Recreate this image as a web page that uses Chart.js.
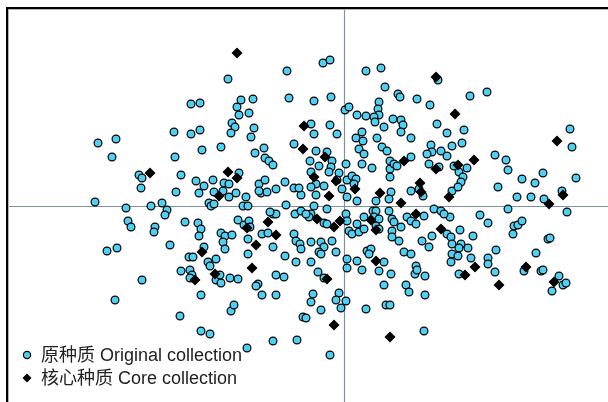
<!DOCTYPE html>
<html>
<head>
<meta charset="utf-8">
<script src="https://cdn.jsdelivr.net/npm/chart.js@4.4.1/dist/chart.umd.min.js"></script>
<style>
	body { margin: 0; background: #fff; }
	canvas { display: block; }
</style>
</head>
<body>
<canvas id="scatter_canvas" width="608" height="402"></canvas>
<script>
// PCA scores (x = PC1, y = PC2)
const originalCollection = [
	[-116,127],[-57,135],[-55,108],[-153,102],[-144,103],[-103,106],[-91,107],[-107,99],[-95,93],[-105,91],
	[-112,83],[-109,79],[-90,78],[-170,74],[-144,76],[-153,72],[-113,73],
	[-21,143],[-14,146],[22,135],[37,138],[94,126],[41,119],[54,112],[56,109],[73,107],[86,101],[-30,105],
	[-13,109],[35,104],[34,97],[35,91],[1,96],[5,99],[13,91],[22,90],[30,89],[31,84],[40,79],[49,87],[57,86],
	[59,81],[93,82],[-33,82],[-14,81],[-30,72],[-7,72],[18,74],[57,74],[103,73],
	[126,110],[143,114],[120,76],[226,77],
	[-246,63],[-228,67],[-232,49],[-205,31],[-202,28],[-203,18],[-249,4],[-218,-2],[-216,-15],[-213,-21],
	[-237,-45],[-227,-42],[-193,0],[-182,3],[-177,-4],[-179,-9],[-189,-21],[-190,-26],
	[-93,69],[-142,56],[-123,59],[-169,49],[-50,62],[-80,58],[-79,48],[-89,53],[-75,45],[-71,41],[-163,31],
	[-105,33],[-148,25],[-140,20],[-131,26],[-120,23],[-115,22],[-145,13],[-168,14],[-130,14],[-121,15],
	[-115,9],[-108,13],[-135,3],[-133,0],[-130,2],[-98,9],[-101,0],[-96,0],[-85,22],[-79,26],[-83,13],
	[-77,14],[-85,15],[-68,17],[-59,24],[-50,18],[-43,11],[-45,18],[-58,1],[-49,-8],[-43,-5],[-159,-16],
	[-146,-17],[-143,-23],[-145,-30],[-174,-39],[-123,-27],[-119,-30],[-112,-29],[-121,-36],[-119,-43],
	[-106,-14],[-100,-19],[-95,-15],[-94,-21],[-96,-33],[-71,-8],[-68,-8],[-74,-6],[-82,-28],[-76,-27],
	[-71,-41],[-50,-28],[-48,-35],[-44,-38],[-43,-43],[-96,-48],[-59,-50],[-48,-56],[-140,-41],[-155,-51],
	[-151,-51],[-128,-53],[-136,-56],[-134,-60],
	[12,68],[19,65],[33,68],[67,68],[15,57],[20,52],[38,59],[43,55],[-28,55],[-17,54],[-34,45],[-25,40],
	[-12,45],[-13,39],[-15,34],[2,42],[18,42],[28,38],[46,45],[46,37],[50,42],[53,40],[67,49],[87,61],
	[88,54],[97,55],[103,50],[83,52],[108,60],[85,42],[95,39],[110,40],[-5,33],[-7,26],[3,26],[8,30],
	[12,27],[10,22],[-33,34],[-28,22],[-20,20],[-33,19],[-2,17],[3,9],[13,5],[46,29],[47,14],[45,7],[32,5],
	[67,15],[75,17],[79,10],[108,15],[-28,11],[-17,-3],[-30,0],[-33,-8],[-35,-11],[-38,-8],[-20,-17],
	[-17,-18],[2,-8],[3,-15],[5,-25],[8,-28],[13,-18],[15,-26],[20,-11],[20,-23],[29,-5],[32,-5],[30,-11],
	[35,-13],[32,-20],[35,-23],[45,-5],[48,-13],[50,-16],[48,-25],[57,-21],[48,-31],[55,-35],[63,-11],
	[67,-15],[72,-18],[80,-10],[90,-3],[97,-5],[106,-11],[100,-8],[103,-28],[107,-31],[108,-38],[88,-30],
	[85,-41],[78,-35],[108,-48],[107,-56],[-33,-36],[-23,-36],[-20,-41],[-12,-35],[-8,-46],[-25,-46],
	[-23,-48],[-33,-56],[3,-53],[13,-55],[23,-45],[27,-43],[25,-48],[40,-56],[60,-46],[67,-48],[72,-60],
	[228,59],[118,63],[123,38],[115,34],[119,29],[117,24],[114,19],[151,51],[162,46],[164,36],[178,27],
	[191,23],[199,33],[232,28],[154,19],[173,9],[187,9],[200,7],[218,15],[164,-3],[223,-6],[136,-9],
	[144,-17],[170,-20],[174,-19],[178,-15],[169,-28],[116,-24],[129,-30],[204,-33],[206,-32],[117,-38],
	[115,-42],[124,-42],[152,-44],[192,-47],[114,-50],[127,-52],[144,-52],[144,-58],
	[-202,-74],[-229,-94],
	[-163,-65],[-154,-64],[-152,-69],[-154,-72],[-128,-74],[-123,-77],[-124,-69],[-114,-72],[-106,-73],
	[-86,-78],[-88,-80],[-143,-89],[-82,-89],[-68,-69],[-60,-71],[-68,-89],[-113,-105],[-110,-99],
	[-164,-110],[-143,-125],[-134,-128],[-97,-142],[-71,-135],[-47,-134],[-41,-111],
	[-26,-66],[-20,-72],[3,-62],[18,-64],[35,-65],[47,-68],[71,-68],[73,-64],[81,-70],[40,-79],[62,-79],
	[65,-86],[81,-89],[-31,-88],[-33,-96],[-23,-104],[-5,-87],[-8,-94],[2,-95],[-3,-102],[22,-103],
	[42,-99],[46,-99],[-38,-112],[80,-125],[-14,-149],
	[115,-68],[151,-66],[180,-65],[197,-65],[199,-64],[215,-70],[219,-79],[222,-77],[208,-85],
];

const coreCollection = [
	[-107,153],[-40,80],[92,129],[111,92],[-194,33],[-41,57],[-116,34],[-107,28],[-125,10],[-97,-22],
	[-88,-39],[-76,-16],[-68,-29],[-142,-46],[-92,-62],[-19,49],[60,45],[92,37],[-30,29],[-8,25],[11,17],
	[36,13],[57,3],[76,23],[77,14],[105,9],[-15,10],[-27,-13],[-10,-21],[-4,-15],[27,-14],[32,-24],
	[72,-8],[97,-23],[32,-55],[213,65],[130,46],[114,41],[205,2],[219,11],[131,-61],[182,-61],
	[-149,-74],[-129,-68],[-17,-73],[-10,-119],[46,-131],[121,-69],[155,-79],[210,-76],
];

const seriesLabels = ["原种质 Original collection", "核心种质 Core collection"];

const xRange = [-336, 264];
const yRange = [-196, 197];

const circleColor = "#4fd0f2";
const fontFamily = "\"Liberation Sans\", Arial, \"Noto Sans CJK SC\", sans-serif";

function toPoints(list) {
	return list.map(function(p) { return {x: p[0], y: p[1]}; });
}

// grey axis lines through the origin, under the points
const originLines = {
	id: "originLines",
	beforeDatasetsDraw: function(chart) {
		const ctx = chart.ctx;
		const area = chart.chartArea;
		const x0 = Math.round(chart.scales.x.getPixelForValue(0)) + 0.5;
		const y0 = Math.round(chart.scales.y.getPixelForValue(0)) + 0.5;
		ctx.save();
		ctx.strokeStyle = "#7f939f";
		ctx.lineWidth = 1.2;
		ctx.beginPath();
		ctx.moveTo(x0, area.top);
		ctx.lineTo(x0, area.bottom);
		ctx.moveTo(area.left, y0);
		ctx.lineTo(area.right, y0);
		ctx.stroke();
		ctx.restore();
	},
};

// frame (top and left edges) with a thin grey shadow
const frame = {
	id: "frame",
	afterDraw: function(chart) {
		const ctx = chart.ctx;
		const area = chart.chartArea;
		ctx.save();
		ctx.fillStyle = "#000";
		ctx.fillRect(area.left - 2, area.top - 2, area.right - area.left + 2, 2);
		ctx.fillRect(area.left - 2, area.top - 2, 2, area.bottom - area.top + 2);
		ctx.fillStyle = "#b4b4b4";
		ctx.fillRect(area.left, area.top, area.right - area.left, 1);
		ctx.fillRect(area.left, area.top, 1, area.bottom - area.top);
		ctx.restore();
	},
};

// legend inside the plot, bottom left
const innerLegend = {
	id: "innerLegend",
	afterDatasetsDraw: function(chart) {
		const ctx = chart.ctx;
		const area = chart.chartArea;
		const mx = area.left + 19;
		const tx = area.left + 33;
		const rows = [area.bottom - 47, area.bottom - 24];
		ctx.save();
		ctx.font = "18px " + fontFamily;
		ctx.textBaseline = "middle";
		ctx.textAlign = "left";
		chart.data.datasets.forEach(function(ds, i) {
			const y = rows[i];
			if (i === 0) {
				ctx.beginPath();
				ctx.arc(mx, y, 3.6, 0, Math.PI * 2);
				ctx.fillStyle = circleColor;
				ctx.fill();
				ctx.lineWidth = 1.2;
				ctx.strokeStyle = "#000";
				ctx.stroke();
			} else {
				ctx.beginPath();
				ctx.moveTo(mx, y - 4.5);
				ctx.lineTo(mx + 4.5, y);
				ctx.lineTo(mx, y + 4.5);
				ctx.lineTo(mx - 4.5, y);
				ctx.closePath();
				ctx.fillStyle = "#000";
				ctx.fill();
			}
			ctx.fillStyle = "#222";
			ctx.fillText(ds.label, tx, y + 1);
		});
		ctx.restore();
	},
};

new Chart(document.getElementById("scatter_canvas"), {
	type: "scatter",
	data: {
		datasets: [
			{
				label: seriesLabels[0],
				data: toPoints(originalCollection),
				pointStyle: "circle",
				pointRadius: 3.9,
				pointBackgroundColor: circleColor,
				pointBorderColor: "#000",
				pointBorderWidth: 1.2,
				order: 2,
			},
			{
				label: seriesLabels[1],
				data: toPoints(coreCollection),
				pointStyle: "rectRot",
				pointRadius: 5.5,
				pointBackgroundColor: "#000",
				pointBorderColor: "#000",
				pointBorderWidth: 0,
				order: 1,
			},
		],
	},
	options: {
		responsive: false,
		animation: false,
		layout: {autoPadding: false, padding: {left: 8, top: 9, right: 0, bottom: 0}},
		scales: {
			x: {type: "linear", min: xRange[0], max: xRange[1], display: false},
			y: {type: "linear", min: yRange[0], max: yRange[1], display: false},
		},
		plugins: {
			legend: {display: false},
			tooltip: {enabled: false},
		},
	},
	plugins: [originLines, innerLegend, frame],
});
</script>
</body>
</html>
